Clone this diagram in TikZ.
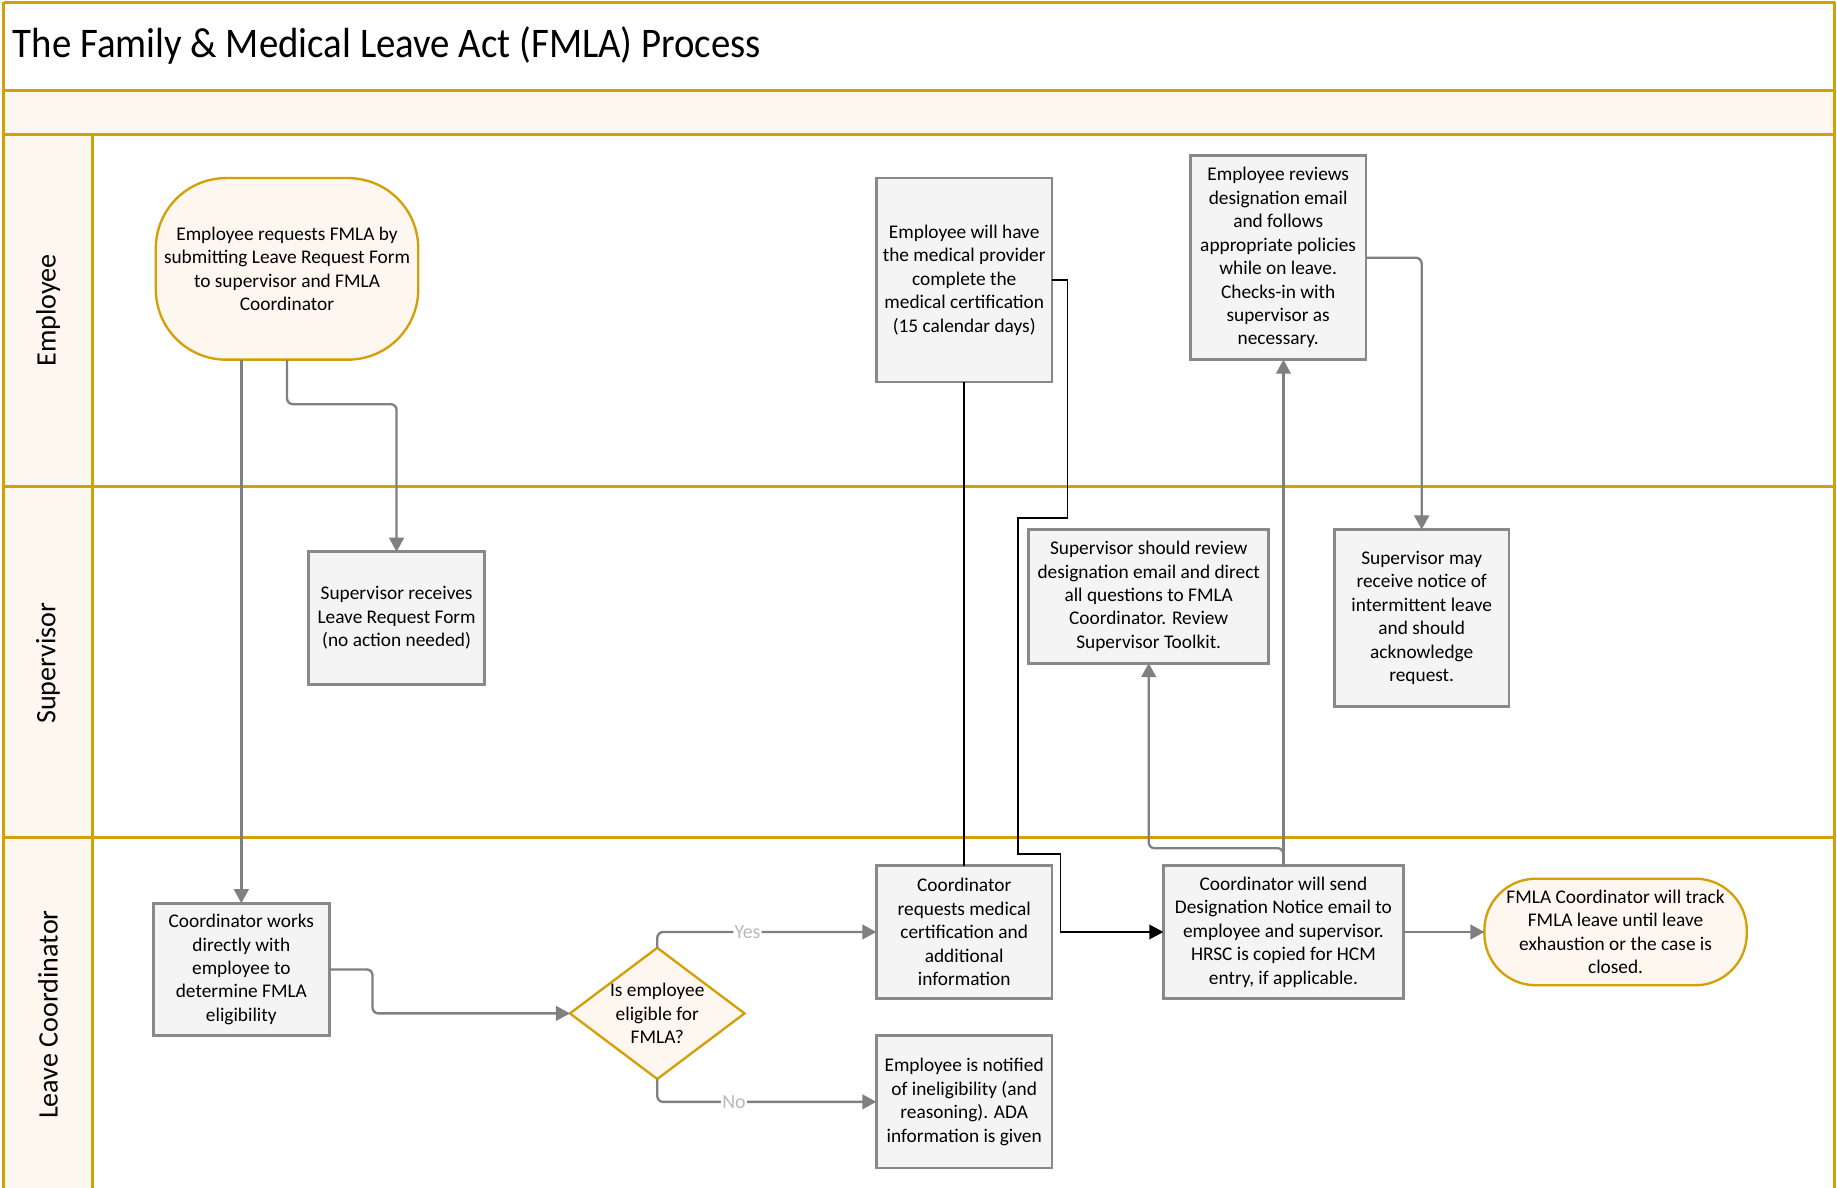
\documentclass[tikz,border=0pt]{standalone}
\usepackage{fontspec}
\setmainfont{Carlito}
\newfontfamily\titlefont{Carlito}[FakeStretch=0.92]
\usetikzlibrary{arrows.meta,shapes.geometric}
\definecolor{gold}{RGB}{212,160,8}
\definecolor{cream}{RGB}{254,247,240}
\definecolor{boxfill}{RGB}{244,244,244}
\definecolor{boxline}{RGB}{137,137,137}
\definecolor{conn}{RGB}{128,128,128}
\definecolor{lbl}{RGB}{185,185,185}
\begin{document}
\begin{tikzpicture}[x=1pt,y=-1pt,
  every node/.style={font=\fontsize{16.5}{20}\selectfont, inner sep=0pt, outer sep=0pt},
  lane/.style={draw=gold, line width=2.8pt},
  box/.style 2 args={draw=boxline, fill=boxfill, line width=2.4pt, align=center,
    minimum width=#1pt, minimum height=#2pt},
  term/.style n args={3}{draw=gold, fill=cream, line width=2pt, align=center,
    rounded corners=#3pt, minimum width=#1pt, minimum height=#2pt},
  lanelabel/.style={rotate=90, font=\fontsize{24}{28}\selectfont},
  conn/.style={draw=conn, line width=2pt, rounded corners=5pt,
    -{Triangle[length=12pt,width=12.5pt]}},
  blk/.style={draw=black, line width=1.3pt},
  yn/.style={fill=white, text=lbl, inner sep=1pt, font=\fontsize{17}{20}\selectfont}
]
\useasboundingbox (0,0) rectangle (1568,1014);
\fill[white] (0,0) rectangle (1568,1014);
% lanes
\fill[cream] (3,77) rectangle (1566,115);
\fill[cream] (3,115) rectangle (79,1016);
\draw[lane] (3,2) -- (1566,2);
\draw[lane] (3,77) -- (1566,77);
\draw[lane] (3,115) -- (1566,115);
\draw[lane] (3,415) -- (1566,415);
\draw[lane] (3,715) -- (1566,715);
\draw[lane] (3,2) -- (3,1016);
\draw[lane] (1566,2) -- (1566,1016);
\draw[lane] (79,115) -- (79,1016);
\node[anchor=west, font=\titlefont\fontsize{36}{40}\selectfont] (title) at (11,39) {The Family \& Medical Leave Act (FMLA) Process};
\node[lanelabel] (l1) at (41,265) {Employee};
\node[lanelabel] (l2) at (41,566) {Supervisor};
\node[lanelabel] (l3) at (41,866) {Leave Coordinator};

% nodes
\node[term={224}{155}{60}] (start) at (245,229.5) {Employee requests FMLA by\\submitting Leave Request Form\\to supervisor and FMLA\\Coordinator};
\node[box={150}{113}] (sr) at (338.5,527.5) {Supervisor receives\\Leave Request Form\\(no action needed)};
\node[box={150}{113}] (cw) at (206,827.5) {Coordinator works\\directly with\\employee to\\determine FMLA\\eligibility};
\node[diamond, draw=gold, fill=cream, line width=2pt, minimum width=149pt, minimum height=112pt] (dm) at (561,865) {};
\node[align=center] (dmt) at (561,865) {Is employee\\eligible for\\FMLA?};
\node[box={150}{113}] (cr) at (823,795.5) {Coordinator\\requests medical\\certification and\\additional\\information};
\node[box={150}{113}] (en) at (823,940.5) {Employee is notified\\of ineligibility (and\\reasoning). ADA\\information is given};
\node[box={150}{174}] (ew) at (823,239) {Employee will have\\the medical provider\\complete the\\medical certification\\(15 calendar days)};
\node[box={205}{114}] (ssr) at (980.5,509) {Supervisor should review\\designation email and direct\\all questions to FMLA\\Coordinator. Review\\Supervisor Toolkit.};
\node[box={205}{113}] (cs) at (1095.5,795.5) {Coordinator will send\\Designation Notice email to\\employee and supervisor.\\HRSC is copied for HCM\\entry, if applicable.};
\node[box={150}{174}] (er) at (1091,220) {Employee reviews\\designation email\\and follows\\appropriate policies\\while on leave.\\Checks-in with\\supervisor as\\necessary.};
\node[box={149}{151}] (sm) at (1213.5,527.5) {Supervisor may\\receive notice of\\intermittent leave\\and should\\acknowledge\\request.};
\node[term={224}{91}{44}] (ft) at (1379,795.5) {FMLA Coordinator will track\\FMLA leave until leave\\exhaustion or the case is\\closed.};

% connectors
\draw[conn] (cw.north |- start.south) -- (cw.north);
\draw[conn] (start.south) -- ++(0,38) -| (sr.north);
\draw[conn] (cw.east) -- ++(37,0) |- (dm.west);
\draw[conn] (dm.north) |- (cr.west) node[yn, pos=0.706] (yes) {Yes};
\draw[conn] (dm.south) |- (en.west) node[yn, pos=0.675] (no) {No};
\draw[blk] (ew.south) -- (cr.north);
\draw[blk, -{Triangle[length=12pt,width=12.5pt]}] (ew.east) -- ++(13,0) -- ++(0,203) -- ++(-42,0) -- ++(0,287) -- ++(36,0) |- (cs.west);
\draw[conn] (cs.north) -- ++(0,-15) -| (ssr.south);
\draw[conn] (cs.north) -- (cs.north |- er.south);
\draw[conn] (er.east) -| (sm.north);
\draw[conn] (cs.east) -- (ft.west);
\end{tikzpicture}
\end{document}
